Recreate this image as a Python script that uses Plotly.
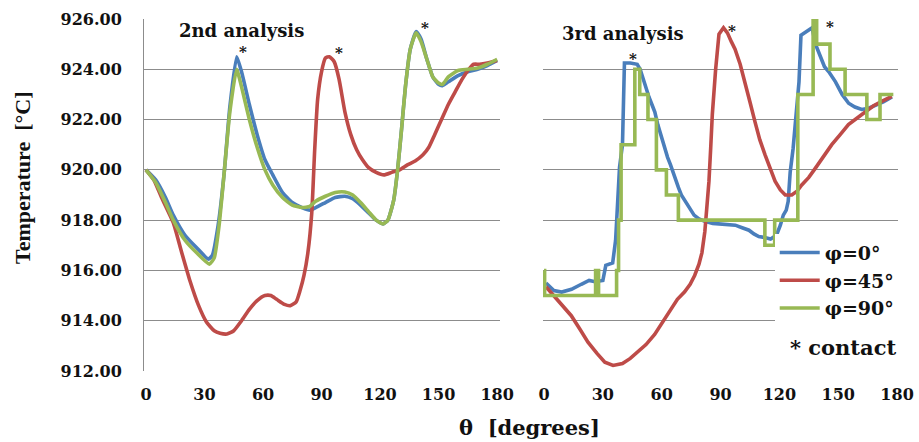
import plotly.graph_objects as go

# ---------------- data ----------------
# 2nd analysis: temperature [°C] versus angle θ [degrees]
theta_2_phi0 = [0, 5, 10, 14, 20, 26, 32, 34, 37, 40, 43, 46.5, 49, 53, 57, 61, 65, 70, 75, 80,
                84, 87, 92, 97, 102, 106, 110, 114, 118, 121.5, 124, 127, 129, 131, 133, 135.5,
                138.5, 141, 144, 147, 150, 152, 155, 160, 165, 170, 175, 180]
temp_2_phi0 = [920.0, 919.6, 918.9, 918.2, 917.4, 916.9, 916.45, 916.6, 917.8, 919.8, 922.5, 924.5,
               923.9, 922.6, 921.4, 920.4, 919.8, 919.1, 918.7, 918.5, 918.4, 918.5, 918.7, 918.9,
               918.95, 918.85, 918.6, 918.3, 918.0, 917.85, 918.0, 918.8, 920.0, 921.6, 923.3, 924.8,
               925.5, 925.2, 924.4, 923.7, 923.4, 923.35, 923.5, 923.75, 923.9, 924.0, 924.15, 924.35]

theta_2_phi45 = [0, 4, 8, 14, 18, 22.5, 27, 31, 35, 38, 41.5, 45, 49, 53, 57, 61, 64, 67, 71, 74,
                 77, 79, 81, 83, 85, 86.5, 88, 90, 92, 94, 96.5, 99, 102, 105, 108, 111, 114, 118,
                 122, 126, 130, 134, 138, 142, 145, 148, 151.5, 155, 158.5, 162, 165.5, 168, 171,
                 175, 180]
temp_2_phi45 = [920.0, 919.6, 918.9, 917.9, 916.8, 915.6, 914.6, 913.95, 913.6, 913.5, 913.47, 913.6,
                914.0, 914.45, 914.8, 915.0, 915.0, 914.85, 914.65, 914.6, 914.75, 915.2, 915.8,
                916.7, 918.3, 920.8, 922.8, 923.9, 924.45, 924.5, 924.3, 923.6, 922.3, 921.4, 920.8,
                920.4, 920.1, 919.9, 919.8, 919.9, 920.0, 920.2, 920.35, 920.6, 920.9, 921.4, 922.0,
                922.6, 923.1, 923.6, 924.0, 924.2, 924.2, 924.25, 924.35]

theta_2_phi90 = [0, 5, 10, 14, 20, 26, 32.5, 35, 37.5, 40, 43, 46.5, 49, 53, 57, 61, 65, 70, 75, 80,
                 84, 87, 92, 97, 102, 106, 110, 114, 118, 121.5, 124, 127, 129, 131, 133, 135.5,
                 138.5, 141, 144, 147, 150, 152, 155, 160, 165, 170, 175, 180]
temp_2_phi90 = [920.0, 919.5, 918.7, 918.0, 917.2, 916.7, 916.25, 916.5, 917.8, 919.8, 922.3, 924.0,
                923.3, 922.0, 920.9, 920.0, 919.4, 918.9, 918.6, 918.5, 918.55, 918.75, 918.95,
                919.1, 919.12, 919.0, 918.7, 918.35, 918.0, 917.85, 918.0, 918.8, 920.0, 921.6,
                923.3, 924.8, 925.45, 925.1, 924.4, 923.7, 923.45, 923.4, 923.7, 923.95, 924.0,
                924.05, 924.2, 924.4]

# 3rd analysis
theta_3_phi0 = [1, 5, 9, 14, 19, 23, 26, 30, 31.5, 35, 36.5, 37.5, 38.5, 40, 40.5, 41, 44, 47.5, 49,
                50.5, 52, 53.5, 55, 56.5, 58, 59.5, 61.5, 63, 64.5, 66.5, 68.5, 70, 72, 74, 76.5, 79,
                82, 86, 92, 97.5, 101, 104.5, 107, 109.5, 113, 115.5, 118.5, 120.5, 122, 123.5,
                124.5, 125.5, 127, 128.5, 130, 131, 134, 136.7, 138.4, 141, 143, 145.2, 148.6, 152,
                155.3, 158.5, 162, 165.5, 169, 173, 177.4]
temp_3_phi0 = [915.5, 915.2, 915.14, 915.25, 915.45, 915.6, 915.55, 915.6, 916.2, 916.3, 917.2, 918.5,
               920.1, 921.0, 922.5, 924.25, 924.25, 924.2, 924.0, 923.6, 923.3, 922.9, 922.6, 922.3,
               921.8, 921.4, 920.9, 920.5, 920.2, 919.7, 919.3, 919.0, 918.75, 918.5, 918.2, 918.05,
               917.95, 917.87, 917.85, 917.8, 917.7, 917.6, 917.45, 917.35, 917.3, 917.25, 917.4,
               917.8, 918.2, 918.4, 918.75, 919.9, 920.85, 922.2, 923.5, 925.35, 925.5, 925.65,
               925.0, 924.45, 924.1, 923.9, 923.5, 923.0, 922.65, 922.5, 922.4, 922.45, 922.55,
               922.7, 922.9]

theta_3_phi45 = [1, 7, 13.9, 18, 22.4, 27, 31, 35.2, 40, 44, 47.9, 52, 56.4, 60.5, 64.9, 68, 71.7,
                 74.5, 76.8, 79, 80.5, 82, 83, 84.1, 85, 85.8, 87.5, 89.2, 91.5, 93.5, 95.5, 97.4,
                 100, 102.5, 105, 107.6, 110, 112.7, 115, 117.8, 120.5, 123, 126.3, 129, 131.4, 135,
                 138.2, 142, 146.7, 151, 155.2, 159.5, 163.7, 168, 172.2, 177.3]
temp_3_phi45 = [915.35, 914.8, 914.2, 913.7, 913.15, 912.7, 912.35, 912.22, 912.3, 912.5, 912.75,
                913.05, 913.45, 913.95, 914.5, 914.85, 915.15, 915.45, 915.8, 916.25, 916.7, 917.55,
                918.5, 919.55, 920.9, 922.2, 924.0, 925.4, 925.65, 925.45, 925.1, 924.8, 924.2,
                923.5, 922.7, 921.9, 921.2, 920.6, 920.1, 919.55, 919.2, 919.0, 919.0, 919.15,
                919.4, 919.7, 920.05, 920.5, 921.0, 921.4, 921.8, 922.05, 922.32, 922.55, 922.72,
                922.92]

# φ=90° in the 3rd analysis changes in discrete steps (drawn with a step line)
theta_3_phi90 = [0, 0.3, 26.3, 27.8, 37, 38, 39.3, 46.3, 48.8, 53, 57.3, 62.4, 68.5, 112.6, 117.6,
                 129.4, 137.2, 139, 145.8, 153.5, 164.6, 171.3, 178.1]
temp_3_phi90 = [916, 915, 916, 915, 916, 918, 921, 924, 923, 922, 920, 919, 918, 917, 918, 923,
                926.3, 925, 924, 923, 922, 923, 923]

# contact points (θ, temperature) marked with an asterisk
contact_2_theta = [50, 99, 143]
contact_2_temp = [924.86, 924.82, 925.82]
contact_3_theta = [45.4, 95.9, 145.8]
contact_3_temp = [924.58, 925.70, 925.86]

series_names = ["φ=0°", "φ=45°", "φ=90°"]
series_colors = ["#4a7ebb", "#be4b48", "#98b954"]
x_ticks = [0, 30, 60, 90, 120, 150, 180]
y_ticks = [912, 914, 916, 918, 920, 922, 924, 926]

# ---------------- figure ----------------
SERIF = "DejaVu Serif"
LW = 3.6
fig = go.Figure()

panel2 = [(theta_2_phi0, temp_2_phi0), (theta_2_phi45, temp_2_phi45), (theta_2_phi90, temp_2_phi90)]
for (xs, ys), name, col in zip(panel2, series_names, series_colors):
    fig.add_trace(go.Scatter(x=xs, y=ys, mode="lines", name=name, showlegend=False,
                             line=dict(color=col, width=LW, shape="spline", smoothing=0.5),
                             xaxis="x", yaxis="y"))

panel3 = [(theta_3_phi0, temp_3_phi0, "linear"), (theta_3_phi45, temp_3_phi45, "linear"),
          (theta_3_phi90, temp_3_phi90, "hv")]
for i, ((xs, ys, shape), name, col) in enumerate(zip(panel3, series_names, series_colors)):
    fig.add_trace(go.Scatter(x=xs, y=ys, mode="lines", name=name, showlegend=True,
                             legendgroup=f"g{i}",
                             line=dict(color=col, width=LW, shape=shape), xaxis="x2", yaxis="y2"))

grid = dict(showgrid=True, gridcolor="#8c8c8c", gridwidth=1)
tickfont = dict(family=SERIF, size=16, color="#111111", weight="bold")

fig.update_layout(
    width=919, height=442,
    margin=dict(l=0, r=0, t=19, b=71, autoexpand=False),
    paper_bgcolor="white", plot_bgcolor="white",
    xaxis=dict(domain=[0.1567, 0.5441], range=[-1.0, 181.5], tickvals=x_ticks, showgrid=False,
               zeroline=False, showline=False, tickfont=tickfont, ticks="", ticklabelstandoff=12),
    yaxis=dict(range=[912, 926], tickvals=y_ticks, tickformat=".2f", zeroline=False,
               showline=True, linecolor="#8c8c8c", linewidth=1, tickfont=tickfont, ticks="",
               ticklabelstandoff=18, **grid),
    xaxis2=dict(domain=[0.5909, 0.9772], range=[-0.5, 180.5], tickvals=x_ticks, showgrid=False,
                zeroline=False, showline=False, tickfont=tickfont, ticks="", ticklabelstandoff=12),
    yaxis2=dict(anchor="x2", range=[912, 926], tickvals=y_ticks, showticklabels=False,
                zeroline=False, showline=False, ticks="", **grid),
    legend=dict(x=0.843, y=0.39, xanchor="left", yanchor="top", bgcolor="white",
                font=dict(family=SERIF, size=19, color="#111111", weight="bold"),
                tracegroupgap=0, itemwidth=40),
    showlegend=True,
)

ann = []
for text, px, py in [("2nd analysis", 241, 31), ("3rd analysis", 623, 33)]:
    ann.append(dict(text=text, x=px / 919, y=(371 - py) / 352, xref="paper",
                    yref="paper", showarrow=False, xanchor="center", yanchor="middle",
                    font=dict(family=SERIF, size=18, color="#111111", weight="bold")))

ann.append(dict(text="* contact", x=898 / 919, y=(371 - 347) / 352, xref="paper", yref="paper",
                showarrow=False, xanchor="right", yanchor="middle",
                font=dict(family=SERIF, size=21, color="#111111", weight="bold")))
ann.append(dict(text="θ  [degrees]", x=529 / 919, y=(371 - 427) / 352, xref="paper", yref="paper",
                showarrow=False, xanchor="center", yanchor="middle",
                font=dict(family=SERIF, size=21, color="#111111", weight="bold")))
ann.append(dict(text="Temperature  [°C]", x=22 / 919, y=(371 - 178) / 352, xref="paper",
                yref="paper", showarrow=False, textangle=-90, xanchor="center", yanchor="middle",
                font=dict(family="Liberation Serif", size=22, color="#111111", weight="bold")))

for xs, ys, xr, yr in [(contact_2_theta, contact_2_temp, "x", "y"),
                       (contact_3_theta, contact_3_temp, "x2", "y2")]:
    for cx, cy in zip(xs, ys):
        ann.append(dict(text="*", x=cx, y=cy, xref=xr, yref=yr, showarrow=False,
                        xanchor="center", yanchor="middle", yshift=-4,
                        font=dict(family=SERIF, size=15, color="#111111", weight="bold")))

fig.update_layout(annotations=ann)
fig.write_html("out.html")
